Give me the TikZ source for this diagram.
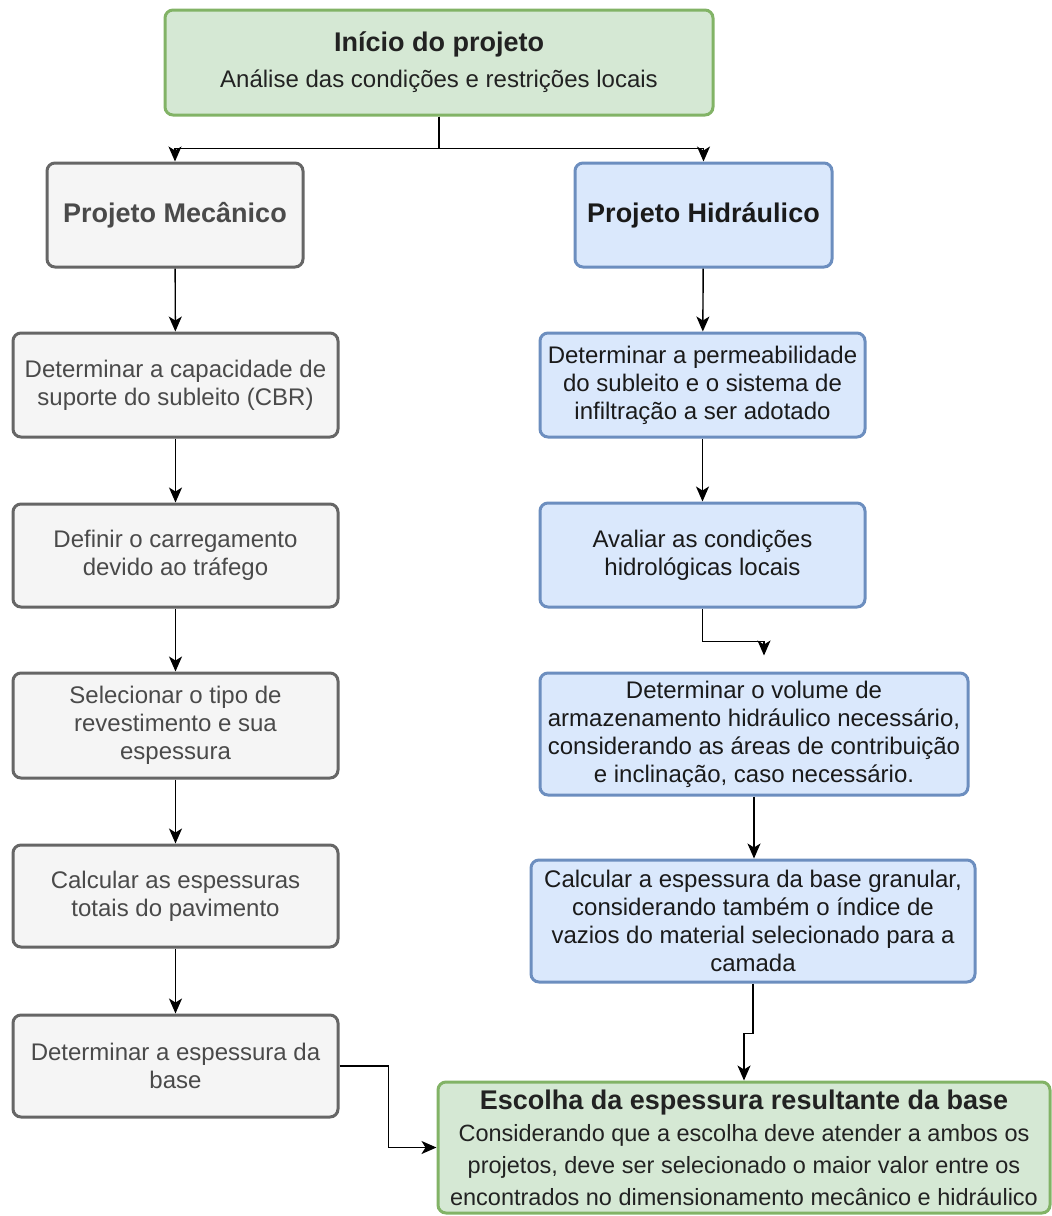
\documentclass[tikz,border=0pt]{standalone}
\usepackage{fontspec}
\setmainfont{Liberation Sans}
\usepackage{tikz}
\usetikzlibrary{arrows.meta}
\usetikzlibrary{calc}

\definecolor{mecfill}{HTML}{F5F5F5}
\definecolor{mecline}{HTML}{666666}
\definecolor{mectext}{HTML}{4A4A4A}
\definecolor{hidfill}{HTML}{DAE8FC}
\definecolor{hidline}{HTML}{6C8EBF}
\definecolor{hidtext}{HTML}{1A1A1A}
\definecolor{inifill}{HTML}{D5E8D4}
\definecolor{iniline}{HTML}{82B366}
\definecolor{initext}{HTML}{222222}

\tikzset{
	caixa/.style={draw, rounded corners=8pt, line width=3pt, align=center, inner sep=2pt, font=\fontsize{24}{28}\selectfont},
	mec/.style={caixa, draw=mecline, fill=mecfill, text=mectext, minimum width=325pt, minimum height=104pt},
	hid/.style={caixa, draw=hidline, fill=hidfill, text=hidtext, minimum width=325pt, minimum height=104pt},
	ini/.style={caixa, draw=iniline, fill=inifill, text=initext},
	titulo/.style={font=\fontsize{27}{30}\selectfont\bfseries},
	seta/.style={-{Stealth[length=15pt,width=13pt,inset=4pt]}, line width=1.4pt},
}

\begin{document}
\begin{tikzpicture}[x=1pt,y=-1pt]
		\useasboundingbox (0,0) rectangle (1052,1216);

		\node[ini, minimum width=548pt, minimum height=105pt] (inicio) at (439,62.5) {{\fontsize{27}{30}\selectfont\bfseries Início do projeto}\\[8pt] Análise das condições e restrições locais};

		\node[mec, titulo, minimum width=256pt] (mecanico) at (175,215) {Projeto Mecânico};
		\node[hid, titulo, minimum width=257pt] (hidraulico) at (703.5,215) {Projeto Hidráulico};

		\node[mec] (cbr) at (175.5,385) {Determinar a capacidade de\\suporte do subleito (CBR)};
		\node[mec, minimum height=103pt] (trafego) at (175.5,555.5) {Definir o carregamento\\devido ao tráfego};
		\node[mec, minimum height=105pt] (revest) at (175.5,725.5) {Selecionar o tipo de\\revestimento e sua\\espessura};
		\node[mec, minimum height=102pt] (totais) at (175.5,896) {Calcular as espessuras\\totais do pavimento};
		\node[mec, minimum height=102pt] (basemec) at (175.5,1066) {Determinar a espessura da\\base};

		\node[hid] (permeab) at (702.5,385) {Determinar a permeabilidade\\do subleito e o sistema de\\infiltração a ser adotado};
		\node[hid] (hidrolog) at (702.5,555) {Avaliar as condições\\hidrológicas locais};
		\node[hid, minimum width=428pt, minimum height=122pt] (volume) at (754,734) {Determinar o volume de\\armazenamento hidráulico necessário,\\considerando as áreas de contribuição\\e inclinação, caso necessário.};
		\node[hid, minimum width=444pt, minimum height=122pt] (granular) at (753,921) {Calcular a espessura da base granular,\\considerando também o índice de\\vazios do material selecionado para a\\camada};

		\node[ini, minimum width=612pt, minimum height=131pt, inner sep=1pt, font=\fontsize{23.5}{32}\selectfont] (escolha) at (744,1147.5) {{\fontsize{27}{30}\selectfont\bfseries Escolha da espessura resultante da base}\\Considerando que a escolha deve atender a ambos os\\projetos, deve ser selecionado o maior valor entre os\\encontrados no dimensionamento mecânico e hidráulico};

		\draw[seta] (inicio.south) -- ++(0,32) -| (mecanico.north);
		\draw[seta] (inicio.south) -- ++(0,32) -| (hidraulico.north);

		\draw[seta] (mecanico) -- (cbr);
		\draw[seta] (cbr) -- (trafego);
		\draw[seta] (trafego) -- (revest);
		\draw[seta] (revest) -- (totais);
		\draw[seta] (totais) -- (basemec);

		\draw[seta] (hidraulico) -- (permeab);
		\draw[seta] (permeab) -- (hidrolog);
		\draw[seta, shorten >=16pt] (hidrolog.south) -- ++(0,33) -| ([xshift=10pt]volume.north);
		\draw[seta] (volume.south) -- (volume.south |- granular.north);
		\draw[seta] (granular.south) -- ++(0,50) -| (escolha.north);

		\draw[seta] (basemec.east) -- ++(49,0) |- (escolha.west);
	\end{tikzpicture}
\end{document}
